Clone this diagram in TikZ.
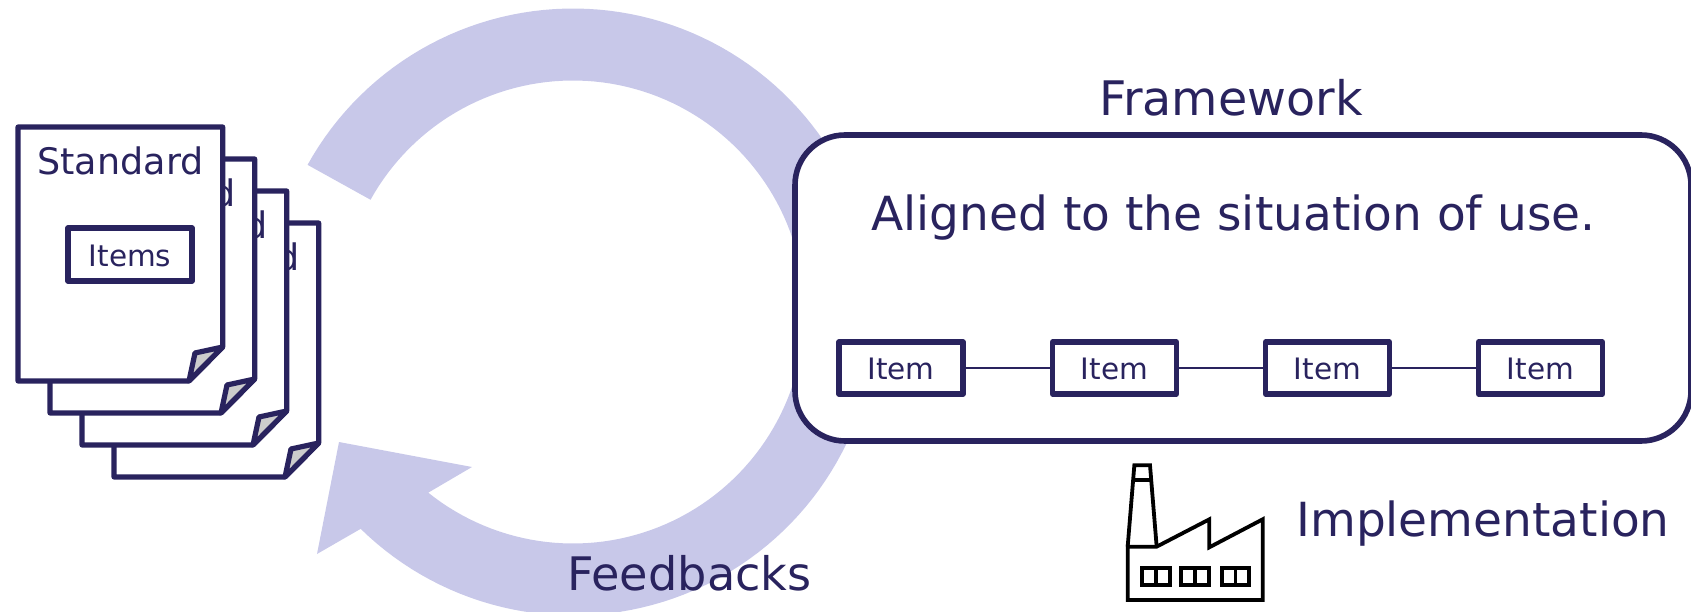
\documentclass[tikz,border=0pt]{standalone}
\usepackage{fontspec}
\setmainfont{DejaVu Sans}
\definecolor{navy}{RGB}{41,35,94}
\definecolor{lav}{RGB}{200,200,233}
\definecolor{foldgray}{RGB}{204,204,204}
\tikzset{
  x=1pt,y=-1pt,
  label/.style={text=navy,inner sep=0pt,outer sep=0pt,anchor=base},
  itembox/.style={draw=navy,line width=5.2pt,fill=white,minimum width=124pt,minimum height=52pt,inner sep=0pt,line join=round,text=navy,font=\fontsize{29.5}{30}\selectfont,text height=22pt,text depth=0pt},
  pageline/.style={draw=navy,line width=5.2pt,line join=round},
  factory/.style={draw=black,line width=3.8pt,miter limit=10}
}
\begin{document}
\begin{tikzpicture}
\useasboundingbox (0,0) rectangle (1691,612);
% circular arrow
\fill[lav] plot[domain=151:-134.4,samples=140] ({573+303.5*cos(\x)},{312-303.5*sin(\x)})
  -- (317,554) -- (339,442) -- (472,467)
  -- plot[domain=-128.7:151,samples=140] ({573+231.5*cos(\x)},{312-231.5*sin(\x)}) -- cycle;
% pages
\foreach \i/\d in {4/96,3/64,2/32,1/0}{
\begin{scope}[shift={(\d,\d)}]
  \draw[pageline,fill=white] (18,127) -- (222.7,127) -- (222.7,347) -- (189,381) -- (18,381) -- cycle;
  \draw[pageline,fill=foldgray] (189,381) -- (195,353) -- (222.7,347) -- cycle;
  \node[label,font=\fontsize{36.5}{40}\selectfont] (std\i) at (120.5,175) {Standard};
\end{scope}
}
\node[itembox,minimum height=53pt,text height=23pt] (items) at (130,254.5) {Items};
% frame
\node[draw=navy,line width=5.6pt,fill=white,rounded corners=50pt,minimum width=896pt,minimum height=306pt,inner sep=0pt] (frame) at (1243,288) {};
\node[label,font=\fontsize{47}{55}\selectfont] (title) at (1233.5,231) {Aligned to the situation of use.};
\node[label,font=\fontsize{47.6}{50}\selectfont] (fw) at (1231,116) {Framework};
\node[label,font=\fontsize{47}{50}\selectfont] (impl) at (1483,536) {Implementation};
\node[label,font=\fontsize{46.2}{50}\selectfont] (fb) at (689.5,590) {Feedbacks};
% items
\node[itembox] (a) at (901,368) {Item};
\node[itembox] (b) at (1114.5,368) {Item};
\node[itembox] (c) at (1327.5,368) {Item};
\node[itembox] (d) at (1540.5,368) {Item};
\draw[navy,line width=1.8pt] (a) -- (b);
\draw[navy,line width=1.8pt] (b) -- (c);
\draw[navy,line width=1.8pt] (c) -- (d);
% factory
\begin{scope}[shift={(1100,450)},x=0.3333pt,y=-0.3333pt]
  \draw[factory] (83,290) -- (170,290) -- (328,208) -- (328,292) -- (488,208) -- (488,450) -- (83,450) -- cycle;
  \draw[factory] (83,290) -- (103,46) -- (150,46) -- (170,290);
  \draw[factory] (100,90) -- (154,90);
  \foreach \xa/\xb in {125/210,243/328,365/448}{
    \draw[factory] (\xa,353) rectangle (\xb,405);
    \draw[factory] ({(\xa+\xb)/2},353) -- ({(\xa+\xb)/2},405);
  }
\end{scope}
\end{tikzpicture}
\end{document}
